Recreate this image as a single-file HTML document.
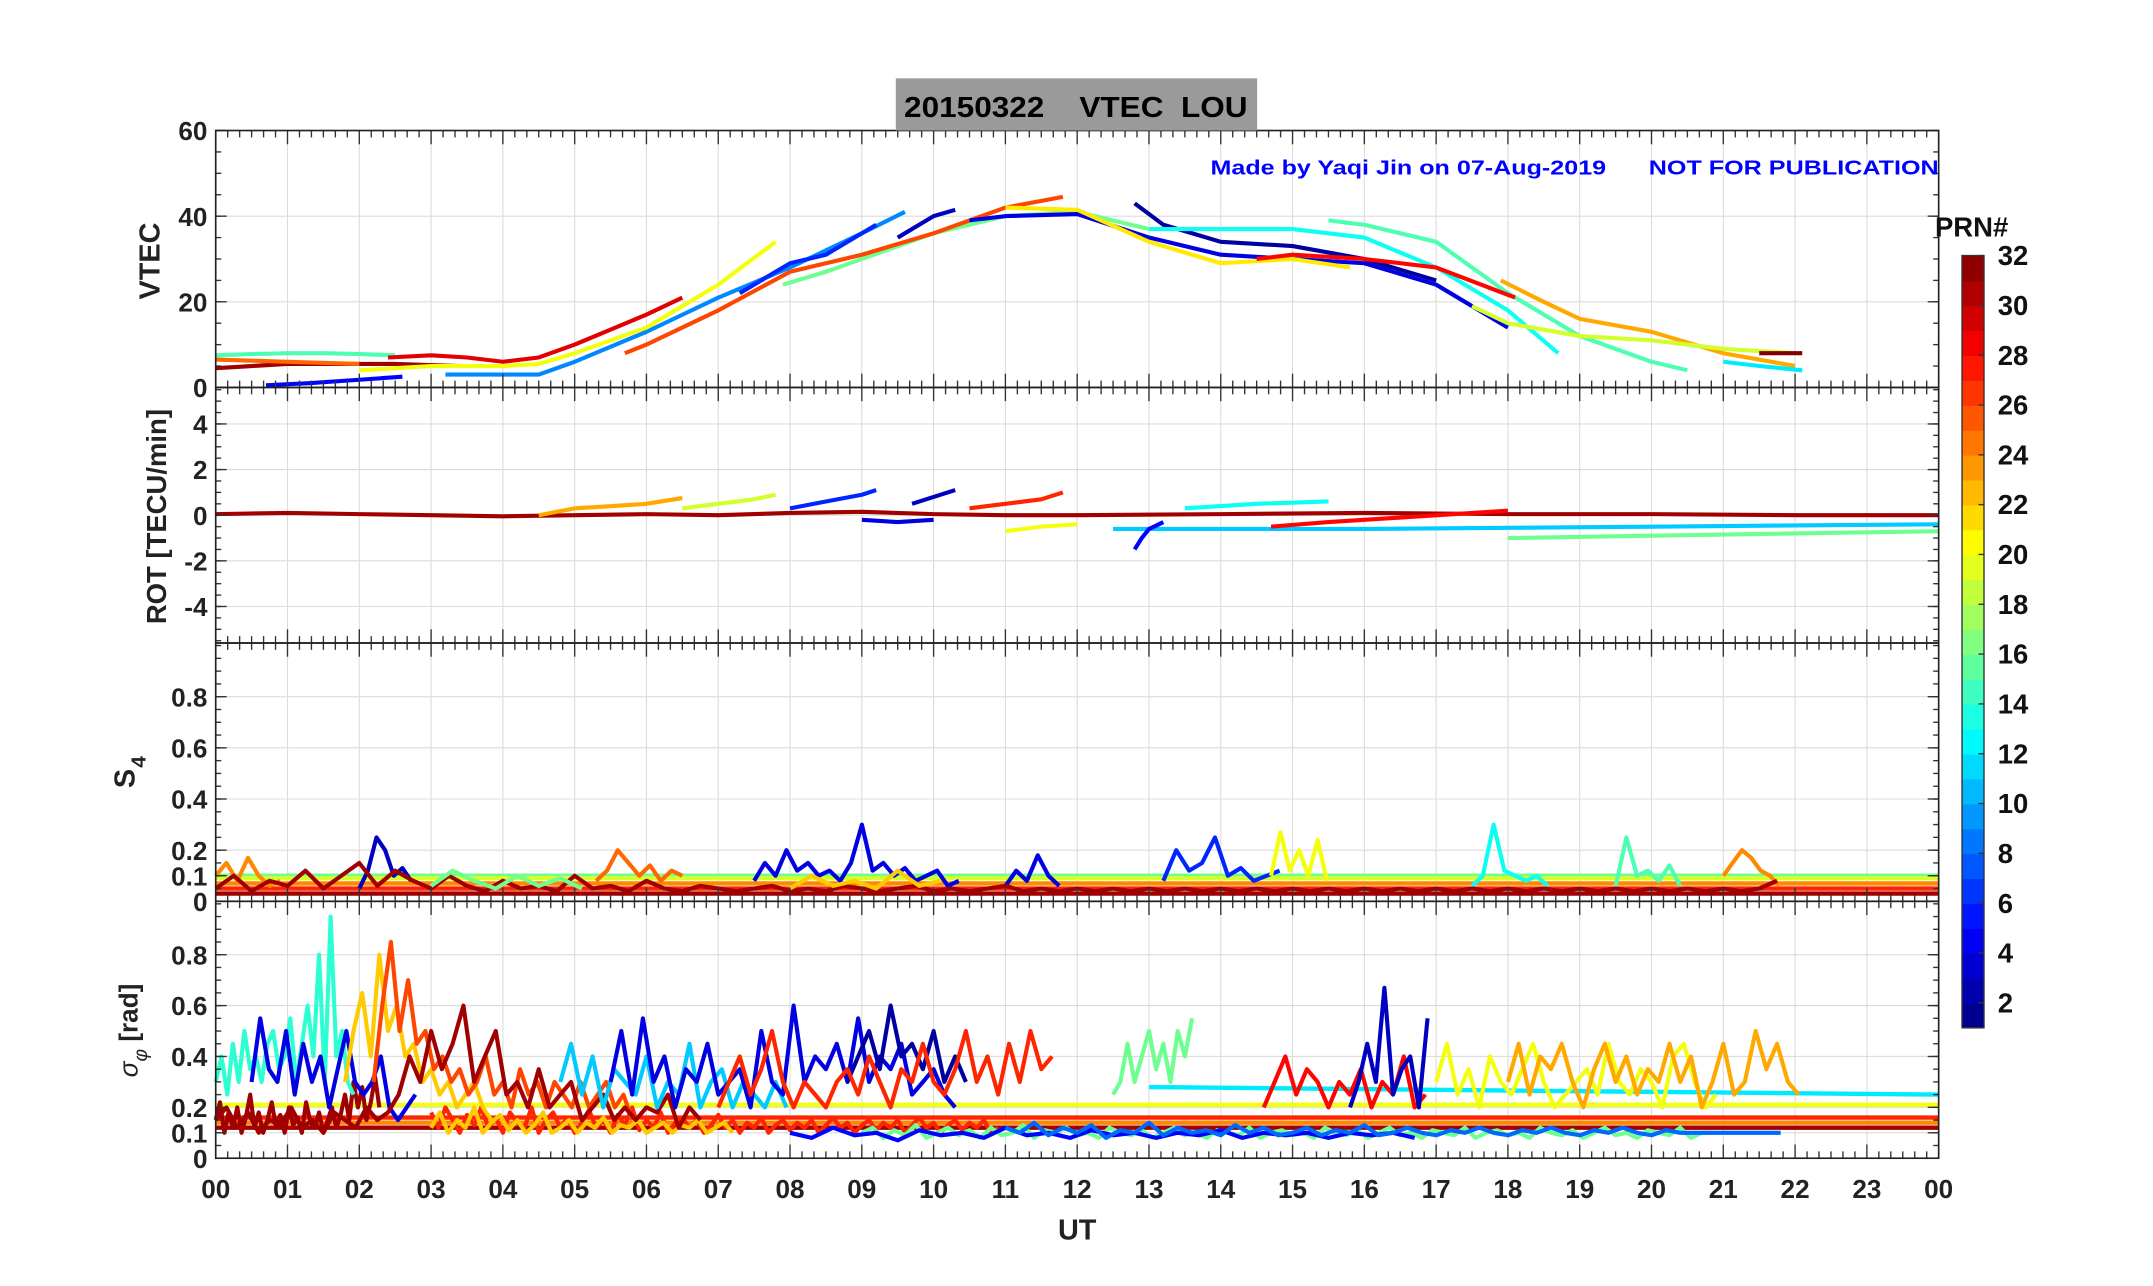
<!DOCTYPE html>
<html><head><meta charset="utf-8"><title>VTEC LOU</title>
<style>html,body{margin:0;padding:0;background:#fff}svg{display:block}text{font-family:"Liberation Sans",sans-serif;font-weight:bold}</style>
</head><body>
<svg id="fig" width="2153" height="1286" viewBox="0 0 1567 936" preserveAspectRatio="none" xmlns="http://www.w3.org/2000/svg">
<rect width="1600" height="960" fill="#fff"/>
<g id="grid"></g><g id="series"></g><g id="axes"></g>
<rect x="652" y="57" width="263" height="38" fill="#9a9a9a"/>
<text x="783" y="85" font-size="21" text-anchor="middle" fill="#000" xml:space="preserve" textLength="250" lengthAdjust="spacingAndGlyphs">20150322    VTEC  LOU</text>
<text x="881" y="127" font-size="15" fill="#0000ff" textLength="288" lengthAdjust="spacingAndGlyphs">Made by Yaqi Jin on 07-Aug-2019</text>
<text x="1200" y="127" font-size="15" fill="#0000ff" textLength="211" lengthAdjust="spacingAndGlyphs">NOT FOR PUBLICATION</text>
<text x="784" y="902" font-size="21" text-anchor="middle" fill="#222">UT</text>
<text transform="translate(116,190) rotate(-90)" font-size="21" text-anchor="middle" fill="#222">VTEC</text>
<text transform="translate(121,376) rotate(-90)" font-size="20" text-anchor="middle" fill="#222">ROT [TECU/min]</text>
<text transform="translate(98,562) rotate(-90)" font-size="21" text-anchor="middle" fill="#222">S<tspan font-size="15" dy="8" dx="1">4</tspan></text>
<text transform="translate(100,750) rotate(-90)" font-size="19" text-anchor="middle" fill="#222"><tspan font-style="italic" font-weight="normal">σ</tspan><tspan font-size="14" dy="7" font-style="italic" font-weight="normal">φ</tspan><tspan dy="-7"> [rad]</tspan></text>
<g id="cbar"></g>
<text x="1435" y="172" font-size="20" text-anchor="middle" fill="#111">PRN#</text>
</svg>
<script>
// ---- data (hours UT, values) ----
const hourTicks = ["00","01","02","03","04","05","06","07","08","09","10","11","12","13","14","15","16","17","18","19","20","21","22","23","00"];
const vtecTicks = [0,20,40,60];
const rotTicks = [-4,-2,0,2,4];
const s4Ticks = [0,0.1,0.2,0.4,0.6,0.8];
const sigTicks = [0,0.1,0.2,0.4,0.6,0.8];
const cbarTicks = [2,4,6,8,10,12,14,16,18,20,22,24,26,28,30,32];

// VTEC arcs: PRN, times, values
const vtecPrn = [31,25,15,5,29,9,20,6,16,26,3,4,2,13,15,21,23,28,19,12,32];
const vtecT = [
 [0,0.5,1,1.5,2,2.5,3.4],[0,1,2],[0,0.5,1,1.5,2,2.5],[0.7,1.3,2,2.6],
 [2.4,3,3.5,4,4.5,5,5.5,6,6.5],[3.2,4,4.5,5,6,7,8,9,9.6],[2,2.5,3,3.5,4,4.5,5,6,7,7.8],
 [7.3,8,8.5,9.2],[7.9,8.5,9,10,11,12,13],[5.7,6,7,8,9,10,11,11.8],[9.5,10,10.3],
 [10.5,11,12,13,14,15,16,17,18],[12.8,13.2,14,15,16,17],[13,14,15,16,17,18,18.7],
 [15.5,16,17,18,19,20,20.5],[11,12,13,14,15,15.8],[17.9,18.5,19,20,21,22],
 [14.5,15,16,17,18.1],[17.5,18,19,20,21,22],[21,21.5,22.1],[21.5,22.1]];
const vtecV = [
 [4.5,5,5.5,5.5,5.5,5.5,5],[6.5,6,5.5],[7.5,7.8,8,8,7.8,7.5],[0.5,1,1.8,2.5],
 [7,7.5,7,6,7,10,13.5,17,21],[3,3,3,6,13,21,28,36,41],[4,4.5,5,5,5,5.5,8,14,24,34],
 [22,29,31,38],[24,27,30,36,40,41,37],[8,10,18,27,31,36,42,44.5],[35,40,41.5],
 [39,40,40.5,35,31,30,29,24,14],[43,38,34,33,30,25],[37,37,37,35,28,18,8],
 [39,38,34,22,12,6,4],[42,41.5,34,29,30,28],[25,20,16,13,8,5],
 [30,31,30,28,21],[19,15,12,11,9,8],[6,5,4],[8,8]];

// ROT segments
const rotPrn = [31,23,19,6,3,27,11,16,4,5,28,20,13];
const rotT = [[0,1,2,3,4,5,6,7,8,9,10,11,12,14,16,18,20,22,24],[4.5,5,5.5,6,6.5],[6.5,7,7.5,7.8],[8,8.5,9,9.2],[9.7,10,10.3],[10.5,11,11.5,11.8],[12.5,16,20,24],[18,21,24],[9,9.5,10],[12.8,12.9,13,13.2],[14.7,15.5,16.5,18],[11,11.5,12],[13.5,14.5,15.5]];
const rotV = [[0.05,0.1,0.05,0,-0.05,0,0.05,0,0.1,0.15,0.05,0,0,0.05,0.1,0.05,0.05,0,0],[0,0.3,0.4,0.5,0.75],[0.3,0.5,0.7,0.9],[0.3,0.6,0.9,1.1],[0.5,0.8,1.1],[0.3,0.5,0.7,1.0],[-0.6,-0.6,-0.5,-0.4],[-1.0,-0.85,-0.7],[-0.2,-0.3,-0.2],[-1.5,-1.0,-0.6,-0.3],[-0.5,-0.3,-0.1,0.2],[-0.7,-0.5,-0.4],[0.3,0.5,0.6]];

// S4 bursts (PRN, start hour, step hour, values)
const s4Prn = [24,3,25,4,4,6,20,13,15,24,31,16,22];
const s4Start = [0,2,5.3,7.5,11,13.2,14.7,17.5,19.5,21,0,3,8];
const s4Step = [0.15,0.12,0.15,0.15,0.15,0.18,0.13,0.15,0.15,0.13,0.25,0.3,0.3];
const s4V = [
 [0.1,0.15,0.08,0.17,0.1,0.06,0.08],[0.05,0.12,0.25,0.2,0.1,0.13,0.08],
 [0.08,0.12,0.2,0.15,0.1,0.14,0.08,0.12,0.1],
 [0.08,0.15,0.1,0.2,0.12,0.15,0.1,0.12,0.08,0.15,0.3,0.12,0.15,0.1,0.13,0.08,0.1,0.12,0.06,0.08],
 [0.06,0.12,0.08,0.18,0.1,0.06],[0.08,0.2,0.12,0.15,0.25,0.1,0.13,0.08,0.1,0.12],
 [0.1,0.27,0.12,0.2,0.1,0.24,0.08],[0.06,0.1,0.3,0.12,0.1,0.08,0.1,0.06],
 [0.06,0.25,0.1,0.12,0.08,0.14,0.06],[0.1,0.15,0.2,0.17,0.12,0.1,0.06],
 [0.05,0.1,0.04,0.08,0.06,0.12,0.05,0.1,0.15,0.06,0.12,0.08,0.05,0.1,0.06,0.04,0.08,0.05,0.06,0.04,0.1,0.05,0.06,0.04,0.08,0.05,0.04,0.06,0.05,0.04,0.05,0.06,0.04,0.05,0.04,0.06,0.05,0.04,0.05,0.06,0.04,0.05,0.04,0.05,0.06,0.04,0.05,0.04,0.05,0.04,0.05,0.04,0.05,0.04,0.05,0.04,0.05,0.04,0.05,0.04,0.05,0.04,0.05,0.04,0.05,0.04,0.05,0.04,0.05,0.04,0.05,0.04,0.05,0.04,0.05,0.04,0.05,0.04,0.05,0.04,0.05,0.04,0.05,0.04,0.05,0.04,0.05,0.08],
 [0.06,0.12,0.08,0.05,0.1,0.06,0.09,0.05],[0.05,0.1,0.06,0.08,0.05,0.12,0.06,0.08]];
const s4FlatPrn = [16,19,24,31,27];
const s4FlatV = [0.1,0.09,0.07,0.03,0.05];

// sigma-phi bursts
const sigPrn = [31,27,22,16,14,4,22,26,31,11,4,2,27,16,28,3,20,23,5,8];
const sigStart = [0,3,3,9,0,0.5,1.8,2.2,0,4.8,5.5,8.8,7,12.5,14.6,15.8,17,18,8,11];
const sigStep = [0.06,0.1,0.12,0.15,0.08,0.12,0.12,0.12,0.15,0.15,0.15,0.15,0.15,0.1,0.15,0.12,0.15,0.15,0.3,0.2];
const sigV = [
 [0.15,0.22,0.1,0.18,0.12,0.2,0.1,0.16,0.25,0.12,0.18,0.1,0.15,0.22,0.12,0.17,0.1,0.2,0.13,0.16,0.1,0.22,0.14,0.12,0.18,0.1,0.15,0.2,0.12,0.17,0.25,0.15,0.3,0.2,0.28,0.15,0.22,0.32,0.2],
 [0.18,0.12,0.2,0.15,0.1,0.17,0.13,0.2,0.12,0.16,0.1,0.18,0.14,0.12,0.2,0.1,0.15,0.18,0.12,0.16,0.1,0.14,0.19,0.12,0.15,0.1,0.17,0.13,0.2,0.11,0.15,0.12,0.18,0.1,0.14,0.16,0.12,0.15,0.1,0.13,0.17,0.12,0.15,0.1,0.14,0.12,0.16,0.1,0.13,0.15,0.11,0.14,0.12,0.15,0.1,0.13,0.16,0.12,0.14,0.1,0.13,0.15,0.11,0.14,0.12,0.15,0.1,0.13,0.16,0.12,0.14,0.1,0.13,0.15,0.11,0.14,0.12,0.15,0.1,0.12],
 [0.12,0.18,0.1,0.15,0.12,0.2,0.1,0.14,0.17,0.11,0.15,0.1,0.13,0.18,0.1,0.12,0.15,0.1,0.14,0.12,0.16,0.1,0.13,0.12,0.15,0.1,0.12,0.14,0.1,0.13,0.12,0.15,0.1,0.12,0.14,0.1],
 [0.1,0.12,0.08,0.11,0.09,0.13,0.08,0.1,0.12,0.09,0.11,0.08,0.12,0.09,0.1,0.13,0.08,0.11,0.1,0.12,0.09,0.1,0.08,0.12,0.1,0.09,0.11,0.08,0.1,0.12,0.09,0.1,0.08,0.11,0.1,0.09,0.12,0.08,0.1,0.11,0.09,0.1,0.08,0.12,0.1,0.09,0.11,0.08,0.1,0.12,0.09,0.1,0.08,0.11,0.1,0.09,0.12,0.08,0.1,0.11,0.09,0.1,0.08,0.12,0.1,0.09,0.11,0.08,0.1,0.12,0.09,0.1,0.08,0.11,0.1,0.09,0.12,0.08,0.1,0.1],
 [0.3,0.4,0.25,0.45,0.3,0.5,0.35,0.4,0.3,0.45,0.5,0.35,0.4,0.55,0.3,0.45,0.6,0.4,0.8,0.3,0.95,0.4,0.5,0.3,0.25],
 [0.3,0.55,0.35,0.3,0.5,0.25,0.45,0.3,0.4,0.2,0.35,0.5,0.3,0.25,0.3,0.4,0.2,0.15,0.2,0.25],
 [0.3,0.5,0.65,0.4,0.8,0.5,0.6,0.4,0.45,0.3,0.35,0.25,0.3,0.2,0.25,0.3,0.2,0.15],
 [0.3,0.6,0.85,0.5,0.7,0.45,0.5,0.35,0.4,0.3,0.35,0.25,0.3,0.4,0.25,0.3,0.2,0.35,0.25,0.3,0.2,0.3,0.25,0.2,0.3,0.2,0.25,0.3,0.2,0.25,0.15],
 [0.15,0.2,0.12,0.18,0.1,0.15,0.13,0.2,0.12,0.15,0.1,0.18,0.15,0.12,0.2,0.15,0.18,0.25,0.4,0.3,0.5,0.35,0.45,0.6,0.3,0.4,0.5,0.25,0.3,0.2,0.35,0.2,0.25,0.3,0.15,0.2,0.25,0.15,0.2,0.15,0.2,0.18,0.25,0.12,0.2,0.15],
 [0.3,0.45,0.25,0.4,0.2,0.35,0.3,0.25,0.4,0.2,0.3,0.25,0.45,0.2,0.3,0.35,0.2,0.3,0.25,0.2,0.3,0.2],
 [0.3,0.5,0.25,0.55,0.3,0.4,0.2,0.35,0.3,0.45,0.25,0.3,0.35,0.2,0.5,0.3,0.25,0.6,0.3,0.4,0.35,0.45,0.3,0.55,0.3,0.4,0.35,0.45,0.25,0.3,0.35,0.25,0.2],
 [0.3,0.4,0.5,0.35,0.6,0.4,0.45,0.35,0.5,0.3,0.4,0.3],
 [0.2,0.3,0.4,0.25,0.35,0.5,0.3,0.2,0.3,0.25,0.2,0.3,0.35,0.25,0.4,0.3,0.2,0.35,0.3,0.45,0.3,0.25,0.35,0.5,0.3,0.4,0.25,0.45,0.3,0.5,0.35,0.4],
 [0.25,0.3,0.45,0.3,0.4,0.5,0.35,0.45,0.3,0.5,0.4,0.55],
 [0.2,0.3,0.4,0.25,0.35,0.3,0.2,0.3,0.25,0.35,0.2,0.3,0.25,0.4,0.2,0.25],
 [0.2,0.3,0.45,0.3,0.67,0.25,0.35,0.4,0.2,0.55],
 [0.3,0.45,0.25,0.35,0.2,0.4,0.3,0.25,0.35,0.45,0.3,0.2,0.25,0.3,0.35,0.25,0.45,0.3,0.25,0.35,0.3,0.2,0.4,0.45,0.3,0.2,0.25],
 [0.3,0.45,0.25,0.4,0.35,0.45,0.3,0.2,0.35,0.45,0.3,0.4,0.25,0.35,0.3,0.45,0.3,0.4,0.2,0.3,0.45,0.25,0.3,0.5,0.35,0.45,0.3,0.25],
 [0.1,0.08,0.12,0.09,0.1,0.07,0.11,0.09,0.1,0.08,0.12,0.09,0.1,0.08,0.11,0.09,0.1,0.08,0.1,0.09,0.11,0.08,0.1,0.09,0.1,0.08,0.1,0.09,0.1,0.08],
 [0.12,0.1,0.14,0.09,0.12,0.1,0.13,0.08,0.11,0.1,0.14,0.09,0.12,0.1,0.11,0.09,0.13,0.1,0.12,0.09,0.1,0.12,0.09,0.11,0.1,0.13,0.09,0.1,0.12,0.1,0.09,0.11,0.1,0.12,0.1,0.09,0.11,0.1,0.12,0.1,0.09,0.11,0.1,0.12,0.1,0.09,0.11,0.1,0.1,0.1,0.1,0.1,0.1,0.1,0.1]];
const sigFlatPrn = [20,27,31,24];
const sigFlatV = [0.21,0.16,0.12,0.14];
const sigCyanT = [13,24]; const sigCyanV = [0.28,0.25];

// ---- layout ----
const X0=157, X1=1411;
const panels=[{top:95,bot:282,min:0,max:60},{top:282,bot:468,min:-5.6,max:5.6},{top:468,bot:656,min:0,max:1.01},{top:656,bot:843,min:0,max:1.01}];
const xs=h=>X0+(X1-X0)*h/24;
const ys=(p,v)=>{const P=panels[p];return P.bot-(v-P.min)/(P.max-P.min)*(P.bot-P.top);};
function jet(prn){const t=(prn-1)/31;const f=x=>Math.max(0,Math.min(1,x));
 const r=f(Math.min(4*t-1.5,-4*t+4.5)),g=f(Math.min(4*t-0.5,-4*t+3.5)),b=f(Math.min(4*t+0.5,-4*t+2.5));
 return `rgb(${Math.round(r*255)},${Math.round(g*255)},${Math.round(b*255)})`;}
const NS="http://www.w3.org/2000/svg";
function el(tag,attrs,parent){const e=document.createElementNS(NS,tag);for(const k in attrs)e.setAttribute(k,attrs[k]);parent.appendChild(e);return e;}
const gG=document.getElementById('grid'),sG=document.getElementById('series'),aG=document.getElementById('axes'),cG=document.getElementById('cbar');
function line(p,ts,vs,prn,name,w){const pts=ts.map((t,i)=>xs(t).toFixed(1)+','+ys(p,vs[i]).toFixed(1)).join(' ');
 const e=el('polyline',{points:pts,fill:'none',stroke:jet(prn),'stroke-width':w||3,'stroke-linejoin':'round'},sG);
 
 }
// grids & axes
const yTickSets=[vtecTicks,rotTicks,s4Ticks,sigTicks];
panels.forEach((P,p)=>{
 for(let h=1;h<24;h++)el('line',{x1:xs(h),x2:xs(h),y1:P.top,y2:P.bot,stroke:'#dcdcdc','stroke-width':0.8},gG);
 yTickSets[p].forEach(v=>{const y=ys(p,v);
  if(y>P.top+1&&y<P.bot-1)el('line',{x1:X0,x2:X1,y1:y,y2:y,stroke:'#dcdcdc','stroke-width':0.8},gG);
  el('line',{x1:X0,x2:X0+8,y1:y,y2:y,stroke:'#333'},aG);el('line',{x1:X1,x2:X1-8,y1:y,y2:y,stroke:'#333'},aG);
  const t=el('text',{x:X0-6,y:y+7,'font-size':19,'text-anchor':'end',fill:'#222'},aG);t.textContent=String(v);
  
  });
 const mstep=[5,0.5,0.05,0.05][p];
 for(let v=P.min;v<=P.max+1e-9;v+=mstep){const vv=Math.round(v/mstep)*mstep;const y=ys(p,vv);if(y<P.top||y>P.bot)continue;
  el('line',{x1:X0,x2:X0+4,y1:y,y2:y,stroke:'#333'},aG);el('line',{x1:X1,x2:X1-4,y1:y,y2:y,stroke:'#333'},aG);}
 for(let m=0;m<=24*6;m++){const x=xs(m/6);const L=m%6==0?10:5;
  el('line',{x1:x,x2:x,y1:P.top,y2:P.top+L,stroke:'#333'},aG);el('line',{x1:x,x2:x,y1:P.bot,y2:P.bot-L,stroke:'#333'},aG);}
 const r=el('rect',{x:X0,y:P.top,width:X1-X0,height:P.bot-P.top,fill:'none',stroke:'#222','stroke-width':1.2},aG);
 
 
});
hourTicks.forEach((lab,i)=>{const t=el('text',{x:xs(i),y:872,'font-size':19,'text-anchor':'middle',fill:'#222'},aG);t.textContent=lab;
 
 });
// VTEC
vtecPrn.forEach((prn,i)=>line(0,vtecT[i],vtecV[i],prn,'vtec-prn'+prn));
// ROT
rotPrn.forEach((prn,i)=>line(1,rotT[i],rotV[i],prn,'rot-prn'+prn));
// S4
s4FlatPrn.forEach((prn,i)=>line(2,[0,24],[s4FlatV[i],s4FlatV[i]],prn,'s4-flat-prn'+prn,3.2));
s4Prn.forEach((prn,i)=>line(2,s4V[i].map((_,k)=>s4Start[i]+k*s4Step[i]),s4V[i],prn,'s4-prn'+prn));
// sigma
sigFlatPrn.forEach((prn,i)=>line(3,[0,24],[sigFlatV[i],sigFlatV[i]],prn,'sigma-flat-prn'+prn,3.2));
line(3,sigCyanT,sigCyanV,12,'sigma-flat-prn12',3.2);
sigPrn.forEach((prn,i)=>line(3,sigV[i].map((_,k)=>sigStart[i]+k*sigStep[i]),sigV[i],prn,'sigma-prn'+prn));
// colorbar
const CT=186,CB=748,CX=1428,CW=16;const cy=v=>CB-(v-1)/(32-1)*(CB-CT);
for(let k=1;k<32;k++){el('rect',{x:CX,y:cy(k+1),width:CW,height:(CB-CT)/31+0.6,fill:jet(k+0.5)},cG);}
el('rect',{x:CX,y:CT,width:CW,height:CB-CT,fill:'none',stroke:'#333'},cG);
cbarTicks.forEach(v=>{const y=cy(v);el('line',{x1:CX+CW-4,x2:CX+CW,y1:y,y2:y,stroke:'#333'},cG);
 const t=el('text',{x:CX+26,y:y+7,'font-size':20,fill:'#111'},cG);t.textContent=String(v);
 
 });
</script>
</body></html>
